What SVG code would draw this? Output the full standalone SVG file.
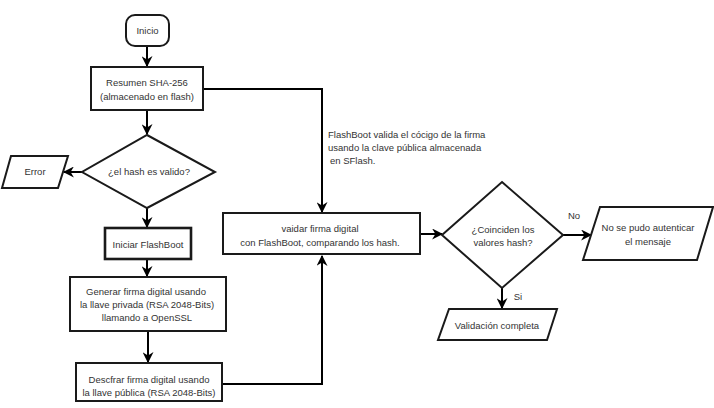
<svg xmlns="http://www.w3.org/2000/svg" width="714" height="408" viewBox="0 0 714 408">
<style>
.box{fill:#fff;stroke:#1a1a1a;stroke-width:2}
.thick{fill:#fff;stroke:#1a1a1a;stroke-width:2.6}
.con{fill:none;stroke:#000;stroke-width:2}
text{font-family:"Liberation Sans",Arial,sans-serif;font-size:9.5px;fill:#333;text-anchor:middle}
.l{text-anchor:start}
</style>
<defs>
<marker id="ah" viewBox="0 0 10 10" refX="9" refY="5" markerWidth="5.5" markerHeight="5.5" orient="auto" markerUnits="strokeWidth">
<path d="M0,0 L10,5 L0,10 L3,5 z" fill="#000"/>
</marker>
</defs>
<rect width="714" height="408" fill="#fff"/>
<g id="connectors">
<path class="con" d="M147,46 V66" marker-end="url(#ah)"/>
<path class="con" d="M203,89 H322 V212" marker-end="url(#ah)"/>
<path class="con" d="M147,110 V134" marker-end="url(#ah)"/>
<path class="con" d="M82,172 H64" marker-end="url(#ah)"/>
<path class="con" d="M147,208 V227" marker-end="url(#ah)"/>
<path class="con" d="M147,259 V276" marker-end="url(#ah)"/>
<path class="con" d="M148,331 V362" marker-end="url(#ah)"/>
<path class="con" d="M222,384 H322 V256" marker-end="url(#ah)"/>
<path class="con" d="M420,234 H442" marker-end="url(#ah)"/>
<path class="con" d="M563,235 H591" marker-end="url(#ah)"/>
<path class="con" d="M502,288 V308" marker-end="url(#ah)"/>
<text class="l" x="328" y="138">FlashBoot valida el cócigo de la firma</text>
<text class="l" x="328" y="151">usando la clave pública almacenada</text>
<text class="l" x="330" y="164">en SFlash.</text>
<text x="574" y="219">No</text>
<text x="518" y="300">Si</text>
</g>
<g id="inicio">
<rect class="box" x="126" y="15" width="43" height="31" rx="9"/>
<text x="147.5" y="34">Inicio</text>
</g>
<g id="resumen">
<rect class="box" x="91" y="67" width="112" height="43"/>
<text x="147" y="86">Resumen SHA-256</text>
<text x="147" y="100">(almacenado en flash)</text>
</g>
<g id="hash-valido">
<polygon class="box" points="147,135 215,172 147,208 82,172"/>
<text x="149" y="175">¿el hash es valido?</text>
</g>
<g id="error">
<polygon class="box" points="11,156 68,156 58,188 2,188"/>
<text x="35" y="175">Error</text>
</g>
<g id="iniciar">
<rect class="thick" x="105" y="228" width="86" height="31"/>
<text x="148" y="248">Iniciar FlashBoot</text>
</g>
<g id="generar">
<rect class="box" x="70" y="277" width="156" height="54"/>
<text x="146" y="295">Generar firma digital usando</text>
<text x="147" y="308">la llave privada (RSA 2048-Bits)</text>
<text x="147" y="321">llamando a OpenSSL</text>
</g>
<g id="descifrar">
<rect class="box" x="76" y="363" width="146" height="38"/>
<text x="149" y="383">Descfrar firma digital usando</text>
<text x="149" y="396">la llave pública (RSA 2048-Bits)</text>
</g>
<g id="validar">
<rect class="box" x="223" y="213" width="197" height="41"/>
<text x="320" y="232">vaidar firma digital</text>
<text x="320" y="246">con FlashBoot, comparando los hash.</text>
</g>
<g id="coinciden">
<polygon class="box" points="502,182 563,235 502,288 442,235"/>
<text x="503" y="233">¿Coinciden los</text>
<text x="503" y="246">valores hash?</text>
</g>
<g id="no-autenticar">
<polygon class="box" points="600,207 713,207 697,260 583,260"/>
<text x="648" y="231">No se pudo autenticar</text>
<text x="648" y="245">el mensaje</text>
</g>
<g id="validacion">
<polygon class="box" points="449,309 557,309 547,340 438,340"/>
<text x="497" y="329">Validación completa</text>
</g>
</svg>
